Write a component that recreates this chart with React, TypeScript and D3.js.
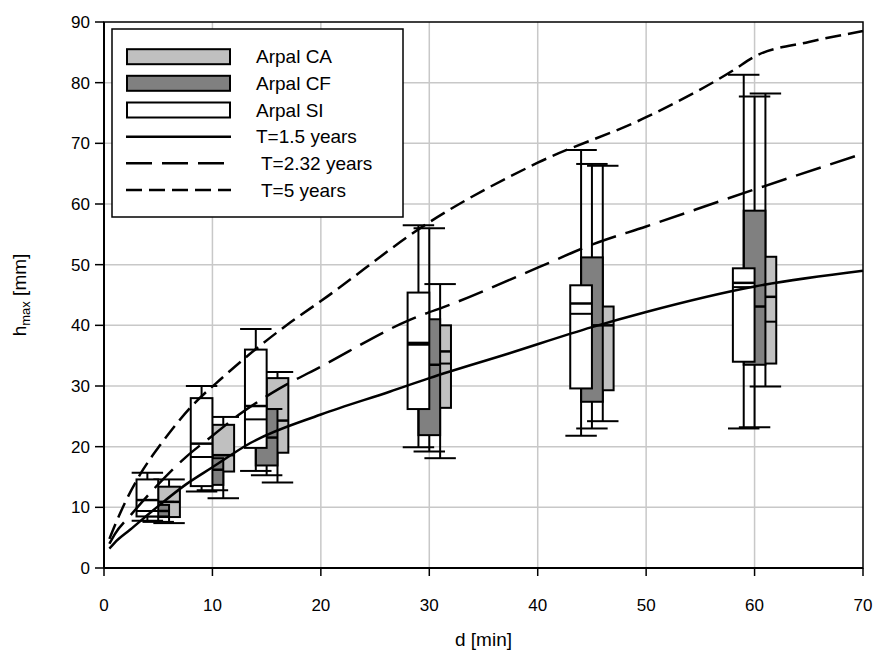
import React from 'react';
import * as d3 from 'd3';

// ---- data ----
const durations = [5, 10, 15, 30, 45, 60];
const xTicks = [0, 10, 20, 30, 40, 50, 60, 70];
const yTicks = [0, 10, 20, 30, 40, 50, 60, 70, 80, 90];

// Arpal CA (light grey)
const caLow = [7.4, 11.5, 14.1, 18.1, 24.2, 29.9];
const caQ1 = [8.4, 15.9, 19.0, 26.4, 29.3, 33.7];
const caMed = [10.9, 18.6, 24.3, 35.7, 40.0, 44.7];
const caMean: (number | null)[] = [null, null, null, 33.7, null, 40.6];
const caQ3 = [13.4, 23.6, 31.3, 40.0, 43.1, 51.3];
const caHigh = [14.6, 24.9, 32.3, 46.8, 66.3, 78.2];

// Arpal CF (dark grey)
const cfLow = [7.6, 12.8, 15.3, 19.2, 23.0, 23.2];
const cfQ1 = [8.5, 13.7, 16.9, 21.9, 27.4, 33.5];
const cfMed = [9.4, 16.2, 21.5, 33.5, 40.0, 43.1];
const cfMean: (number | null)[] = [null, null, null, null, null, null];
const cfQ3 = [10.4, 18.1, 26.2, 41.0, 51.2, 58.9];
const cfHigh = [10.9, 18.6, 26.2, 56.0, 66.6, 77.7];

// Arpal SI (white)
const siLow = [7.8, 12.6, 16.0, 19.9, 21.8, 23.0];
const siQ1 = [8.5, 13.5, 19.8, 26.2, 29.6, 34.0];
const siMed = [11.2, 20.5, 26.7, 37.1, 43.6, 47.0];
const siMean: (number | null)[] = [9.4, 18.3, 24.5, 36.8, 41.9, 46.3];
const siQ3 = [14.6, 28.0, 36.0, 45.4, 46.6, 49.4];
const siHigh = [15.7, 30.0, 39.4, 56.5, 68.9, 81.3];

// return-period curves
const t15D = [0.5, 1, 2.4, 5, 7.5, 10, 13.5, 20, 26.4, 30, 37.4, 45, 50, 60, 70];
const t15H = [3.2, 4.2, 6.3, 10.2, 13.7, 16.6, 20.6, 25.3, 29.1, 31.3, 35.4, 39.7, 42.2, 46.4, 49.0];
const t232D = [0.5, 1, 2.5, 5, 7.5, 10, 12.4, 16.2, 20, 28.2, 32.2, 40, 45, 50, 60, 70];
const t232H = [4.0, 5.6, 8.8, 13.8, 18.2, 21.8, 25.2, 29.6, 33.2, 40.9, 43.6, 49.5, 53.3, 56.3, 62.4, 68.3];
const t5D = [0.5, 1, 2, 3.6, 5.2, 8, 11, 17.2, 20, 30, 40, 50, 58, 60, 65, 70];
const t5H = [4.8, 7.0, 11.0, 16.2, 20.3, 26.5, 31.5, 40.5, 44.0, 57.0, 66.8, 74.3, 82.0, 84.3, 86.7, 88.5];

const seriesNames = ['Arpal CA', 'Arpal CF', 'Arpal SI'];
const seriesFill = ['#c0c0c0', '#808080', '#ffffff'];
const seriesOffset = [1, 0, -1];
const curveNames = ['T=1.5 years', ' T=2.32 years', ' T=5 years'];
const curveDash = ['none', '26,10', '16,7'];

const W = 879;
const H = 659;
const FONT = "'Liberation Sans', Arial, Helvetica, sans-serif";

export default function App() {
  const x = d3.scaleLinear().domain([0, 70]).range([104, 863]);
  const y = d3.scaleLinear().domain([0, 90]).range([568, 22]);
  const boxW = 2; // in d units
  const capW = 2.9;

  const series = [
    { low: caLow, q1: caQ1, med: caMed, mean: caMean, q3: caQ3, high: caHigh },
    { low: cfLow, q1: cfQ1, med: cfMed, mean: cfMean, q3: cfQ3, high: cfHigh },
    { low: siLow, q1: siQ1, med: siMed, mean: siMean, q3: siQ3, high: siHigh },
  ];

  const curves = [
    { d: t15D, h: t15H },
    { d: t232D, h: t232H },
    { d: t5D, h: t5H },
  ];

  const line = d3
    .line<[number, number]>()
    .x((p) => x(p[0]))
    .y((p) => y(p[1]))
    .curve(d3.curveMonotoneX);

  const [x0, x1] = x.range();
  const [y0, y1] = y.range();

  const boxes: React.ReactNode[] = [];
  durations.forEach((d, i) => {
    series.forEach((s, k) => {
      const c = d + seriesOffset[k];
      const xl = x(c - boxW / 2);
      const xr = x(c + boxW / 2);
      const cl = x(c - capW / 2);
      const cr = x(c + capW / 2);
      const xc = x(c);
      boxes.push(
        <g key={`b${i}-${k}`} stroke="#000" strokeWidth={2}>
          <line x1={xc} x2={xc} y1={y(s.low[i])} y2={y(s.high[i])} />
          <line x1={cl} x2={cr} y1={y(s.low[i])} y2={y(s.low[i])} />
          <line x1={cl} x2={cr} y1={y(s.high[i])} y2={y(s.high[i])} />
          <rect
            x={xl}
            y={y(s.q3[i])}
            width={xr - xl}
            height={y(s.q1[i]) - y(s.q3[i])}
            fill={seriesFill[k]}
          />
          <line x1={xl} x2={xr} y1={y(s.med[i])} y2={y(s.med[i])} strokeWidth={2.5} />
          {s.mean[i] != null && (
            <line x1={xl} x2={xr} y1={y(s.mean[i] as number)} y2={y(s.mean[i] as number)} />
          )}
        </g>
      );
    });
  });

  const legendRows = [56.7, 83.3, 110, 136.7, 163.3, 190];

  return (
    <svg
      width={W}
      height={H}
      style={{ position: 'absolute', left: 0, top: 0, background: '#fff' }}
      fontFamily={FONT}
    >
      <rect x={0} y={0} width={W} height={H} fill="#fff" />
      {/* grid */}
      <g stroke="#c8c8c8" strokeWidth={1.5}>
        {xTicks.slice(1, -1).map((t) => (
          <line key={`gx${t}`} x1={x(t)} x2={x(t)} y1={y0} y2={y1} />
        ))}
        {yTicks.slice(1, -1).map((t) => (
          <line key={`gy${t}`} x1={x0} x2={x1} y1={y(t)} y2={y(t)} />
        ))}
      </g>

      {boxes}

      {/* curves */}
      {curves.map((c, k) => (
        <path
          key={`c${k}`}
          d={line(c.d.map((d, i) => [d, c.h[i]] as [number, number])) || ''}
          fill="none"
          stroke="#000"
          strokeWidth={2.5}
          strokeDasharray={curveDash[k]}
        />
      ))}

      {/* frame */}
      <rect x={x0} y={y1} width={x1 - x0} height={y0 - y1} fill="none" stroke="#000" strokeWidth={1.5} />
      <line x1={x0} x2={x0} y1={y0} y2={y1} stroke="#000" strokeWidth={2} />
      <line x1={x0} x2={x1} y1={y0} y2={y0} stroke="#000" strokeWidth={2} />

      {/* y ticks */}
      <g>
        {yTicks.map((t) => (
          <g key={`yt${t}`}>
            <line x1={x0 - 9} x2={x0} y1={y(t)} y2={y(t)} stroke="#000" strokeWidth={1.5} />
            <text x={x0 - 14} y={y(t)} dy="0.35em" textAnchor="end" fontSize={17} fill="#000">
              {t}
            </text>
          </g>
        ))}
      </g>
      {/* x ticks */}
      <g>
        {xTicks.map((t) => (
          <g key={`xt${t}`}>
            <line x1={x(t)} x2={x(t)} y1={y0} y2={y0 + 8} stroke="#000" strokeWidth={1.5} />
            <text x={x(t)} y={y0 + 43} textAnchor="middle" fontSize={17} fill="#000">
              {t}
            </text>
          </g>
        ))}
      </g>

      {/* axis titles */}
      <text x={(x0 + x1) / 2} y={646} textAnchor="middle" fontSize={19} fill="#000">
        d [min]
      </text>
      <text
        transform={`translate(26, ${(y0 + y1) / 2}) rotate(-90)`}
        textAnchor="middle"
        fontSize={19}
        fill="#000"
      >
        h<tspan fontSize={13} dy={4}>max</tspan>
        <tspan dy={-4}> [mm]</tspan>
      </text>

      {/* legend */}
      <rect x={112} y={29} width={291} height={188} fill="#fff" stroke="#000" strokeWidth={1.5} />
      {seriesNames.map((n, k) => (
        <g key={`ls${k}`}>
          <rect
            x={127}
            y={legendRows[k] - 7.5}
            width={103}
            height={15}
            fill={seriesFill[k]}
            stroke="#000"
            strokeWidth={2}
          />
          <text x={256} y={legendRows[k]} dy="0.35em" fontSize={19} fill="#000">
            {n}
          </text>
        </g>
      ))}
      {curveNames.map((n, k) => (
        <g key={`lc${k}`}>
          <line
            x1={126}
            x2={231}
            y1={legendRows[3 + k]}
            y2={legendRows[3 + k]}
            stroke="#000"
            strokeWidth={2.5}
            strokeDasharray={curveDash[k]}
          />
          <text x={256} y={legendRows[3 + k]} dy="0.35em" fontSize={19} fill="#000" style={{ whiteSpace: 'pre' }}>
            {n}
          </text>
        </g>
      ))}
    </svg>
  );
}
